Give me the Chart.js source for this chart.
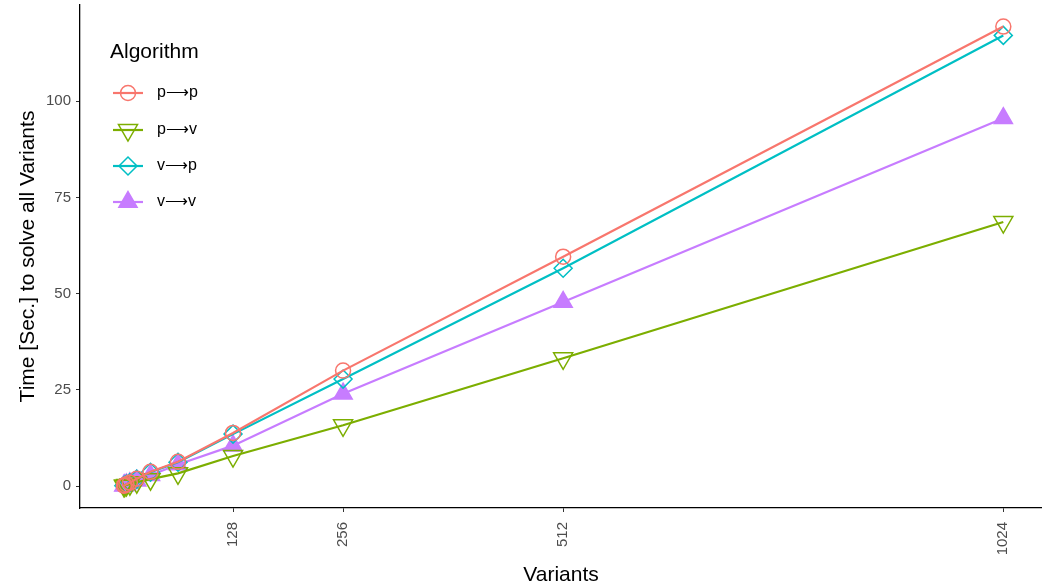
<!DOCTYPE html>
<html>
<head>
<meta charset="utf-8">
<script src="https://cdn.jsdelivr.net/npm/chart.js@4"></script>
<style>
  html, body { margin: 0; padding: 0; background: #fff; }
  #wrap { width: 1042px; height: 588px; position: relative; }
</style>
</head>
<body>
<div id="wrap"><canvas id="chart"></canvas></div>
<script>
// Number of variants (x axis)
const variants = [1, 2, 4, 8, 16, 32, 64, 128, 256, 512, 1024];
const xTicks = [128, 256, 512, 1024];
const yTicks = [0, 25, 50, 75, 100];

// Time in seconds per algorithm
const algorithms = ['p\u27F6p', 'p\u27F6v', 'v\u27F6p', 'v\u27F6v'];
const timePP = [0.1, 0.2, 0.5, 0.9, 1.9, 3.7, 6.3, 13.8, 30.0, 59.6, 119.4];
const timePV = [0.1, 0.1, 0.3, 0.5, 1.0, 1.8, 3.3, 7.8, 15.8, 33.2, 68.6];
const timeVP = [0.1, 0.2, 0.5, 0.9, 1.8, 3.6, 6.2, 13.5, 27.8, 56.6, 117.1];
const timeVV = [0.1, 0.2, 0.4, 0.7, 1.4, 2.8, 5.6, 10.5, 24.0, 47.8, 95.6];

const colors = ['#F8766D', '#7CAE00', '#00BFC4', '#C77CFF'];
const series = [timePP, timePV, timeVP, timeVV];
const markers = [
  { pointStyle: 'circle', radius: 7.5, rotation: 0, filled: false },
  { pointStyle: 'triangle', radius: 11, rotation: 180, filled: false },
  { pointStyle: 'rectRot', radius: 9, rotation: 0, filled: false },
  { pointStyle: 'triangle', radius: 10.5, rotation: 0, filled: true }
];

const FONT = '"Liberation Sans", Arial, sans-serif';

const datasets = algorithms.map((name, i) => ({
  label: name,
  data: variants.map((v, j) => ({ x: v, y: series[i][j] })),
  borderColor: colors[i],
  backgroundColor: markers[i].filled ? colors[i] : 'rgba(0,0,0,0)',
  borderWidth: 2.2,
  pointStyle: markers[i].pointStyle,
  pointRadius: markers[i].radius,
  pointRotation: markers[i].rotation,
  pointBorderWidth: 1.5,
  pointBorderColor: colors[i],
  pointBackgroundColor: markers[i].filled ? colors[i] : 'rgba(0,0,0,0)',
  tension: 0,
  fill: false
}));

// ggplot-style legend drawn inside the panel
const insideLegend = {
  id: 'insideLegend',
  afterDraw(chart) {
    const ctx = chart.ctx;
    ctx.save();
    ctx.fillStyle = '#000';
    ctx.font = '21px ' + FONT;
    ctx.textBaseline = 'middle';
    ctx.textAlign = 'left';
    ctx.fillText('Algorithm', 110, 52);
    const rows = [93, 130, 166, 202];
    algorithms.forEach((name, i) => {
      const y = rows[i];
      ctx.strokeStyle = colors[i];
      ctx.lineWidth = 2.2;
      ctx.beginPath();
      ctx.moveTo(113, y);
      ctx.lineTo(143, y);
      ctx.stroke();
      ctx.fillStyle = markers[i].filled ? colors[i] : 'rgba(0,0,0,0)';
      ctx.lineWidth = 1.5;
      Chart.helpers.drawPoint(ctx, {
        pointStyle: markers[i].pointStyle,
        radius: markers[i].radius,
        rotation: markers[i].rotation,
        borderWidth: 1.5
      }, 128, y);
      ctx.fillStyle = '#000';
      ctx.font = '16px ' + FONT;
      ctx.fillText(name, 157, y);
    });
    ctx.restore();
  }
};

new Chart(document.getElementById('chart'), {
  type: 'line',
  data: { datasets },
  options: {
    responsive: true,
    maintainAspectRatio: false,
    animation: false,
    layout: { padding: { top: 5, left: 0, right: 0, bottom: 0 }, autoPadding: false },
    plugins: {
      legend: { display: false },
      tooltip: { enabled: false }
    },
    scales: {
      x: {
        type: 'linear',
        min: -50,
        max: 1069,
        afterBuildTicks: s => { s.ticks = xTicks.map(v => ({ value: v })); },
        afterFit: s => { s.height = 80; s.paddingLeft = 0; s.paddingRight = 0; },
        grid: { drawOnChartArea: false, drawTicks: true, tickLength: 4, color: '#333', lineWidth: 1 },
        border: { display: true, color: '#000', width: 1.3 },
        ticks: {
          minRotation: 90, maxRotation: 90, padding: 10,
          color: '#4D4D4D', font: { family: FONT, size: 15 },
          callback: v => String(v)
        },
        title: {
          display: true, text: 'Variants', color: '#000',
          font: { family: FONT, size: 21 }, padding: { top: 0, bottom: 0 }
        }
      },
      y: {
        type: 'linear',
        min: -5.7,
        max: 125,
        afterBuildTicks: s => { s.ticks = yTicks.map(v => ({ value: v })); },
        afterFit: s => { s.width = 80; s.paddingTop = 0; s.paddingBottom = 0; },
        grid: { drawOnChartArea: false, drawTicks: true, tickLength: 4, color: '#333', lineWidth: 1 },
        border: { display: true, color: '#000', width: 1.3 },
        ticks: { padding: 5, color: '#4D4D4D', font: { family: FONT, size: 15 }, callback: v => String(v) },
        title: {
          display: true, text: 'Time [Sec.] to solve all Variants', color: '#000',
          font: { family: FONT, size: 21 }, padding: { top: 16, bottom: 4 }
        }
      }
    }
  },
  plugins: [insideLegend]
});
</script>
</body>
</html>
